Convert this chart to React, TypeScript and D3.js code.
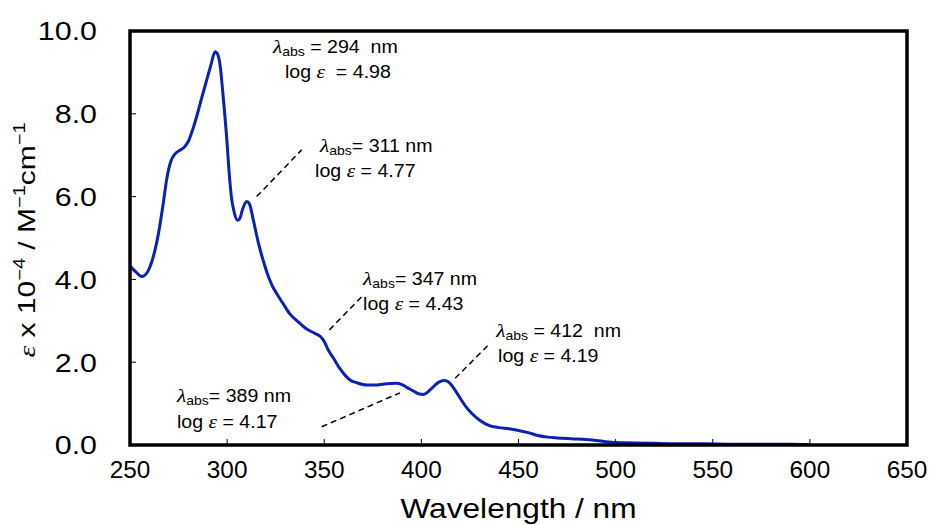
import * as d3 from 'd3';

const wavelength = [
  250, 253, 256, 259, 262, 265, 267, 269, 271, 273, 275.7, 278, 280, 282.5, 285, 287, 289.5, 291.5, 293.8, 295,
  296.3, 298, 299.8, 301, 302.4, 303.5, 305.3, 306.5, 308, 310.1, 311.5, 313.5, 316, 318.6, 321, 323, 325.5, 329,
  332.4, 336, 341, 345, 348, 350, 352, 354.7, 358, 361, 363.3, 367, 371.9, 377, 382, 387, 390, 393, 396, 399, 401,
  403, 406, 409, 412, 414, 417, 420, 423, 426, 430, 435, 440, 445, 450, 455, 460, 465, 470, 477, 485, 490, 495, 500,
  510, 520, 530, 545, 560, 575, 590, 600,
];
const epsilon = [
  4.32, 4.18, 4.07, 4.18, 4.55, 5.2, 5.8, 6.45, 6.85, 7.02, 7.12, 7.2, 7.33, 7.65, 8.05, 8.4, 8.82, 9.15, 9.5, 9.45,
  9.2, 8.4, 7.4, 6.6, 5.92, 5.65, 5.43, 5.47, 5.7, 5.88, 5.82, 5.43, 4.9, 4.45, 4.1, 3.87, 3.66, 3.4,
  3.16, 3.0, 2.8, 2.7, 2.62, 2.5, 2.3, 2.1, 1.85, 1.67, 1.57, 1.5, 1.45, 1.45, 1.48, 1.49, 1.46, 1.38, 1.3, 1.23, 1.22,
  1.27, 1.4, 1.52, 1.56, 1.52, 1.35, 1.13, 0.92, 0.76, 0.6, 0.47, 0.42, 0.39, 0.35, 0.3, 0.23, 0.19, 0.17, 0.15, 0.13, 0.11, 0.08, 0.06,
  0.05, 0.04, 0.03, 0.03, 0.02, 0.02, 0.02, 0.01,
];

const xTicks = [250, 300, 350, 400, 450, 500, 550, 600, 650];
const yTicks = [0, 2, 4, 6, 8, 10];

// peak labels: lambda, log eps, text anchor (nm, value), leader line from/to (nm, value)
const peakNm = [294, 311, 347, 412, 389];
const peakLog = ['4.98', '4.77', '4.43', '4.19', '4.17'];
const labelPos = [[323.6, 9.47], [347.8, 7.08], [370, 3.86], [438.5, 2.61], [274.2, 1.04]];
const label2Pos = [[329.8, 8.86], [345.3, 6.47], [370, 3.26], [439.5, 2.0], [274.2, 0.41]];
const leaders = [null, [[315.2, 6.0], [338.4, 7.13]], [[352.6, 2.78], [370.1, 3.62]], [[417.4, 1.61], [435.4, 2.46]], [[348.7, 0.44], [389, 1.26]]];

const W = 932, H = 525;
const margin = { top: 31, right: 25, bottom: 80, left: 130 };
const iw = W - margin.left - margin.right;
const ih = H - margin.top - margin.bottom;
const font = 'Arial, "Liberation Sans", sans-serif';
const serif = '"Liberation Serif", "Times New Roman", serif';
const nb = '\u00a0';

export default function App() {
  const x = d3.scaleLinear().domain([250, 650]).range([0, iw]);
  const y = d3.scaleLinear().domain([0, 10]).range([ih, 0]);
  const pts = wavelength.map((w, i) => [w, epsilon[i]] as [number, number]);
  const line = d3.line<[number, number]>()
    .x(d => x(d[0]))
    .y(d => y(d[1]))
    .curve(d3.curveMonotoneX);

  const st = (px: number, py: number, s: number) => `translate(${px},${py}) scale(${s},1)`;

  return (
    <svg width={W} height={H} style={{ position: 'absolute', left: 0, top: 0 }} fontFamily={font}>
      <g transform={`translate(${margin.left},${margin.top})`}>
        {yTicks.map(t => (
          <g key={'y' + t}>
            <line x1={0} x2={6} y1={y(t)} y2={y(t)} stroke="#000" strokeWidth={1} />
            <text transform={st(-33, y(t), 1.17)} textAnchor="end" dy="0.36em" fontSize={26}>{t.toFixed(1)}</text>
          </g>
        ))}
        {xTicks.map(t => (
          <g key={'x' + t}>
            <line x1={x(t)} x2={x(t)} y1={ih} y2={ih - 6} stroke="#000" strokeWidth={1} />
            <text transform={st(x(t), ih + 33, 1.06)} textAnchor="middle" fontSize={23}>{t}</text>
          </g>
        ))}
        <path d={line(pts) ?? ''} fill="none" stroke="#0a22b4" strokeWidth={3} strokeLinejoin="round" />
        {leaders.map((l, i) => l && (
          <line key={'l' + i} x1={x(l[0][0])} y1={y(l[0][1])} x2={x(l[1][0])} y2={y(l[1][1])}
            stroke="#000" strokeWidth={1.5} strokeDasharray="6,4" />
        ))}
        {peakNm.map((p, i) => (
          <g key={'a' + i} fontSize={17.5}>
            <text transform={st(x(labelPos[i][0]), y(labelPos[i][1]), 1.12)}>
              <tspan fontFamily={serif} fontStyle="italic" fontSize={19}>λ</tspan>
              <tspan fontSize={12.5} dy={3}>abs</tspan>
              <tspan dy={-3}>{i === 0 || i === 3 ? `${nb}= ${p}${nb}${nb}nm` : `= ${p}${nb}nm`}</tspan>
            </text>
            <text transform={st(x(label2Pos[i][0]), y(label2Pos[i][1]), 1.12)}>
              <tspan>{`log${nb}`}</tspan>
              <tspan fontFamily={serif} fontStyle="italic" fontSize={19}>ε</tspan>
              <tspan>{i === 0 ? `${nb}${nb}= ${peakLog[i]}` : `${nb}= ${peakLog[i]}`}</tspan>
            </text>
          </g>
        ))}
        <rect x={0} y={0} width={iw} height={ih} fill="none" stroke="#000" strokeWidth={3.5} />
      </g>
      <text transform={st(margin.left + iw / 2, 518, 1.13)} textAnchor="middle" fontSize={28}>Wavelength / nm</text>
      <text transform={`translate(35,240) rotate(-90) scale(1.25,1)`} textAnchor="middle" fontSize={24}>
        <tspan fontFamily={serif} fontStyle="italic">ε</tspan>
        <tspan> x 10</tspan>
        <tspan fontSize={16} dy={-10}>−4</tspan>
        <tspan dy={10}> / M</tspan>
        <tspan fontSize={16} dy={-10}>−1</tspan>
        <tspan dy={10}>cm</tspan>
        <tspan fontSize={16} dy={-10}>−1</tspan>
      </text>
    </svg>
  );
}
